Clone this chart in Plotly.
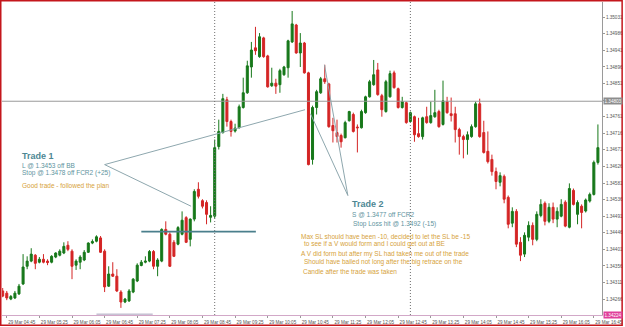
import plotly.graph_objects as go
import pandas as pd

# ---------------- data (EURUSD M5, 29 Mar) ----------------
START = "2012-03-29 04:40"
OPEN = [1.34288, 1.34282, 1.34266, 1.34269, 1.34280, 1.34307, 1.34355, 1.34369, 1.34385, 1.34366,
        1.34374, 1.34369, 1.34366, 1.34380, 1.34385, 1.34391, 1.34412, 1.34396, 1.34358, 1.34366,
        1.34372, 1.34393, 1.34418, 1.34423, 1.34432, 1.34396, 1.34301, 1.34334, 1.34328, 1.34285,
        1.34258, 1.34261, 1.34285, 1.34315, 1.34357, 1.34366, 1.34369, 1.34395, 1.34355, 1.34369,
        1.34455, 1.34442, 1.34420, 1.34415, 1.34442, 1.34487, 1.34428, 1.34483, 1.34564, 1.34533,
        1.34528, 1.34488, 1.34491, 1.34680, 1.34718, 1.34807, 1.34748, 1.34722, 1.34731, 1.34786,
        1.34826, 1.34896, 1.34948, 1.34924, 1.34975, 1.34926, 1.34845, 1.34852, 1.34848, 1.34875,
        1.34894, 1.34964, 1.35010, 1.34934, 1.34961, 1.34880, 1.34645, 1.34786, 1.34826, 1.34864,
        1.34850, 1.34737, 1.34718, 1.34710, 1.34704, 1.34750, 1.34767, 1.34733, 1.34731, 1.34772,
        1.34815, 1.34848, 1.34888, 1.34818, 1.34775, 1.34815, 1.34880, 1.34837, 1.34786, 1.34799,
        1.34748, 1.34761, 1.34715, 1.34707, 1.34761, 1.34745, 1.34761, 1.34775, 1.34740, 1.34802,
        1.34769, 1.34769, 1.34726, 1.34707, 1.34699, 1.34707, 1.34734, 1.34796, 1.34718, 1.34667,
        1.34645, 1.34612, 1.34583, 1.34599, 1.34542, 1.34472, 1.34504, 1.34420, 1.34388, 1.34434,
        1.34466, 1.34428, 1.34493, 1.34526, 1.34477, 1.34515, 1.34483, 1.34491, 1.34529, 1.34461,
        1.34561, 1.34496, 1.34518, 1.34505, 1.34532, 1.34550, 1.34637]
HIGH = [1.34296, 1.34288, 1.34277, 1.34288, 1.34307, 1.34388, 1.34382, 1.34404, 1.34388, 1.34380,
        1.34388, 1.34374, 1.34385, 1.34393, 1.34401, 1.34420, 1.34423, 1.34401, 1.34374, 1.34385,
        1.34399, 1.34420, 1.34428, 1.34439, 1.34437, 1.34401, 1.34355, 1.34366, 1.34347, 1.34290,
        1.34269, 1.34293, 1.34323, 1.34363, 1.34372, 1.34382, 1.34399, 1.34399, 1.34377, 1.34458,
        1.34477, 1.34447, 1.34426, 1.34464, 1.34504, 1.34491, 1.34485, 1.34564, 1.34583, 1.34537,
        1.34534, 1.34518, 1.34699, 1.34753, 1.34823, 1.34815, 1.34753, 1.34742, 1.34794, 1.34867,
        1.34913, 1.34964, 1.35005, 1.34988, 1.34978, 1.34929, 1.34894, 1.34864, 1.34891, 1.34899,
        1.34970, 1.35048, 1.35013, 1.34988, 1.34964, 1.34883, 1.34791, 1.34834, 1.34869, 1.34902,
        1.34853, 1.34758, 1.34753, 1.34715, 1.34750, 1.34777, 1.34772, 1.34740, 1.34780, 1.34818,
        1.34861, 1.34915, 1.34907, 1.34823, 1.34861, 1.34886, 1.34886, 1.34840, 1.34815, 1.34802,
        1.34775, 1.34764, 1.34758, 1.34761, 1.34788, 1.34802, 1.34834, 1.34780, 1.34859, 1.34815,
        1.34813, 1.34788, 1.34731, 1.34712, 1.34721, 1.34740, 1.34802, 1.34810, 1.34750, 1.34721,
        1.34658, 1.34623, 1.34610, 1.34604, 1.34547, 1.34515, 1.34510, 1.34434, 1.34447, 1.34477,
        1.34474, 1.34504, 1.34537, 1.34531, 1.34526, 1.34528, 1.34515, 1.34537, 1.34534, 1.34580,
        1.34566, 1.34534, 1.34523, 1.34539, 1.34555, 1.34642, 1.34740]
LOW = [1.34271, 1.34263, 1.34263, 1.34266, 1.34277, 1.34304, 1.34347, 1.34366, 1.34347, 1.34363,
       1.34363, 1.34358, 1.34363, 1.34377, 1.34382, 1.34388, 1.34396, 1.34320, 1.34345, 1.34347,
       1.34369, 1.34391, 1.34415, 1.34420, 1.34391, 1.34285, 1.34299, 1.34326, 1.34285, 1.34242,
       1.34255, 1.34258, 1.34282, 1.34312, 1.34355, 1.34363, 1.34366, 1.34347, 1.34328, 1.34366,
       1.34439, 1.34353, 1.34380, 1.34412, 1.34439, 1.34418, 1.34409, 1.34477, 1.34539, 1.34512,
       1.34469, 1.34474, 1.34485, 1.34672, 1.34715, 1.34734, 1.34707, 1.34718, 1.34729, 1.34783,
       1.34823, 1.34867, 1.34929, 1.34921, 1.34921, 1.34840, 1.34842, 1.34823, 1.34826, 1.34872,
       1.34867, 1.34961, 1.34932, 1.34896, 1.34878, 1.34629, 1.34631, 1.34767, 1.34823, 1.34850,
       1.34731, 1.34691, 1.34691, 1.34677, 1.34702, 1.34748, 1.34718, 1.34664, 1.34729, 1.34769,
       1.34813, 1.34845, 1.34818, 1.34761, 1.34772, 1.34813, 1.34837, 1.34783, 1.34783, 1.34742,
       1.34745, 1.34693, 1.34704, 1.34699, 1.34742, 1.34742, 1.34758, 1.34731, 1.34737, 1.34769,
       1.34748, 1.34691, 1.34658, 1.34648, 1.34658, 1.34704, 1.34731, 1.34704, 1.34661, 1.34634,
       1.34601, 1.34564, 1.34572, 1.34526, 1.34458, 1.34461, 1.34407, 1.34369, 1.34380, 1.34423,
       1.34412, 1.34423, 1.34488, 1.34466, 1.34472, 1.34472, 1.34461, 1.34488, 1.34461, 1.34458,
       1.34520, 1.34469, 1.34458, 1.34501, 1.34528, 1.34547, 1.34631]
CLOSE = [1.34274, 1.34269, 1.34273, 1.34282, 1.34301, 1.34353, 1.34369, 1.34388, 1.34363, 1.34374,
         1.34366, 1.34365, 1.34382, 1.34391, 1.34396, 1.34409, 1.34401, 1.34355, 1.34369, 1.34380,
         1.34393, 1.34418, 1.34422, 1.34435, 1.34393, 1.34299, 1.34334, 1.34328, 1.34288, 1.34258,
         1.34266, 1.34288, 1.34320, 1.34358, 1.34366, 1.34369, 1.34395, 1.34355, 1.34372, 1.34455,
         1.34442, 1.34355, 1.34382, 1.34460, 1.34480, 1.34420, 1.34483, 1.34558, 1.34545, 1.34518,
         1.34496, 1.34493, 1.34677, 1.34721, 1.34810, 1.34748, 1.34721, 1.34730, 1.34788, 1.34826,
         1.34899, 1.34942, 1.34940, 1.34978, 1.34924, 1.34842, 1.34852, 1.34844, 1.34886, 1.34896,
         1.34967, 1.35013, 1.34934, 1.34961, 1.34880, 1.34631, 1.34786, 1.34829, 1.34864, 1.34856,
         1.34734, 1.34723, 1.34707, 1.34693, 1.34745, 1.34775, 1.34721, 1.34731, 1.34775, 1.34815,
         1.34856, 1.34875, 1.34821, 1.34780, 1.34856, 1.34878, 1.34840, 1.34786, 1.34802, 1.34745,
         1.34772, 1.34712, 1.34707, 1.34758, 1.34745, 1.34764, 1.34772, 1.34734, 1.34804, 1.34772,
         1.34764, 1.34726, 1.34707, 1.34699, 1.34712, 1.34734, 1.34796, 1.34707, 1.34664, 1.34639,
         1.34612, 1.34585, 1.34601, 1.34537, 1.34469, 1.34504, 1.34415, 1.34385, 1.34439, 1.34466,
         1.34428, 1.34496, 1.34523, 1.34477, 1.34515, 1.34483, 1.34504, 1.34523, 1.34464, 1.34566,
         1.34523, 1.34528, 1.34501, 1.34535, 1.34550, 1.34637, 1.34677]

Y_TICKS = [1.34266, 1.34311, 1.34356, 1.34401, 1.34446, 1.34491, 1.34536, 1.34581, 1.34626,
           1.34671, 1.34716, 1.34761, 1.34806, 1.34851, 1.34896, 1.34941, 1.34986, 1.35031, 1.35076]
X_TICKS = ["2012-03-29 04:45", "2012-03-29 05:25", "2012-03-29 06:05", "2012-03-29 06:45",
           "2012-03-29 07:25", "2012-03-29 08:05", "2012-03-29 08:45", "2012-03-29 09:25",
           "2012-03-29 10:05", "2012-03-29 10:45", "2012-03-29 11:25", "2012-03-29 12:05",
           "2012-03-29 12:45", "2012-03-29 13:25", "2012-03-29 14:05", "2012-03-29 14:45",
           "2012-03-29 15:25", "2012-03-29 16:05", "2012-03-29 16:45"]
X_TICK_LABELS = ["29 Mar 04:45", "29 Mar 05:25", "29 Mar 06:05", "29 Mar 06:45", "29 Mar 07:25",
                 "29 Mar 08:05", "29 Mar 08:45", "29 Mar 09:25", "29 Mar 10:05", "29 Mar 10:45",
                 "29 Mar 11:25", "29 Mar 12:05", "29 Mar 12:45", "29 Mar 13:25", "29 Mar 14:05",
                 "29 Mar 14:45", "29 Mar 15:25", "29 Mar 16:05", "29 Mar 16:45"]

SESSION_LINES = ["2012-03-29 09:00", "2012-03-29 13:00"]
HLINE_PRICE = 1.34803
BOTTOM_PRICE = 1.34224
LEVEL_1 = ("2012-03-29 07:30", "2012-03-29 09:50:30", 1.34449)
LEVEL_2 = ("2012-03-29 06:35", "2012-03-29 07:44", 1.34225)
TRADE_LINES = [
    ("2012-03-29 06:45", 1.34631, "2012-03-29 10:50:48", 1.34780),
    ("2012-03-29 06:45", 1.34631, "2012-03-29 08:31", 1.34518),
    ("2012-03-29 11:43:20", 1.34547, "2012-03-29 10:57:30", 1.34769),
    ("2012-03-29 11:43:20", 1.34547, "2012-03-29 11:14:36", 1.34902),
]

# ---------------- layout geometry ----------------
W, H = 625, 327
ML, MR, MT, MB = 2, 21, 2, 11
PW, PH = W - ML - MR, H - MT - MB


def fx(px):
    return (px - ML) / PW


def fy(py):
    return (MT + PH - py) / PH


BULL = "#17781a"
BEAR = "#d42525"
TEAL = "#4d8794"
TEAL2 = "#5e939e"
GOLD = "#d6a23a"
FONT = "Liberation Sans"

times = pd.date_range(START, periods=len(OPEN), freq="5min")

fig = go.Figure(go.Candlestick(
    x=times, open=OPEN, high=HIGH, low=LOW, close=CLOSE,
    increasing=dict(line=dict(color=BULL, width=1), fillcolor=BULL),
    decreasing=dict(line=dict(color=BEAR, width=1), fillcolor=BEAR),
    whiskerwidth=0, hoverinfo="skip",
))

shapes = []
# full-width horizontal line
shapes.append(dict(type="line", xref="paper", yref="y", x0=0, x1=1, y0=HLINE_PRICE, y1=HLINE_PRICE,
                   line=dict(color="#9a9a9a", width=1)))
# session separators
for t in SESSION_LINES:
    shapes.append(dict(type="line", xref="x", yref="paper", x0=t, x1=t, y0=0, y1=1,
                       line=dict(color="#6f6f6f", width=1, dash="1px,2px")))
# levels
shapes.append(dict(type="line", xref="x", yref="y", x0=LEVEL_1[0], x1=LEVEL_1[1], y0=LEVEL_1[2],
                   y1=LEVEL_1[2], line=dict(color="#4a7f8c", width=1.6)))
shapes.append(dict(type="line", xref="x", yref="y", x0=LEVEL_2[0], x1=LEVEL_2[1], y0=LEVEL_2[2],
                   y1=LEVEL_2[2], line=dict(color="#a9a2bd", width=1)))
# trade lines
for x0, y0, x1, y1 in TRADE_LINES:
    shapes.append(dict(type="line", xref="x", yref="y", x0=x0, y0=y0, x1=x1, y1=y1,
                       line=dict(color="#8ea7ae", width=1)))
# outer red frame
shapes.append(dict(type="rect", xref="paper", yref="paper", x0=fx(0.75), x1=fx(624.2),
                   y0=fy(326.2), y1=fy(0.75), line=dict(color="#c4161c", width=1.5)))

annotations = []


def txt(text, px, py, color, size, bold=False):
    annotations.append(dict(
        text=f"<b>{text}</b>" if bold else text, xref="paper", yref="paper",
        x=fx(px), y=fy(py), xanchor="left", yanchor="middle", showarrow=False,
        font=dict(family=FONT, size=size, color=color)))


txt("Trade 1", 20.5, 156.5, TEAL, 9, bold=True)
txt("L @ 1.3453 off BB", 20.5, 166, TEAL2, 6.5)
txt("Stop @ 1.3478 off FCR2 (+25)", 20.0, 173.5, TEAL2, 6.5)
txt("Good trade - followed the plan", 20.0, 187, GOLD, 6.5)

txt("Trade 2", 351.5, 204.5, TEAL, 9, bold=True)
txt("S @ 1.3477 off FCR2", 351.0, 215, TEAL2, 6.5)
txt("Stop Loss hit @ 1.3492 (-15)", 352.3, 224.5, TEAL2, 6.5)

txt("Max SL should have been -10, decided to let the SL be -15", 300.0, 237.5, GOLD, 6.5)
txt("to see if a V would form and I could get out at BE", 302.5, 244.5, GOLD, 6.5)
txt("A V did form but after my SL had taken me out of the trade", 300.0, 255, GOLD, 6.5)
txt("Should have bailed not long after the big retrace on the", 303.5, 263.3, GOLD, 6.5)
txt("Candle after the trade was taken", 301.7, 272, GOLD, 6.5)

# price labels on the axis
for price, bg in [(HLINE_PRICE, "#8d8d8d"), (BOTTOM_PRICE, "#e0409a")]:
    annotations.append(dict(
        text=f"{price:.5f}", xref="paper", yref="y", x=fx(605), y=price,
        xanchor="left", yanchor="middle", showarrow=False, bgcolor=bg, borderpad=0.5,
        font=dict(family=FONT, size=4.6, color="white")))

fig.update_layout(
    width=W, height=H, margin=dict(l=ML, r=MR, t=MT, b=MB),
    paper_bgcolor="white", plot_bgcolor="white", showlegend=False,
    shapes=shapes, annotations=annotations,
    xaxis=dict(
        type="date", range=["2012-03-29 04:39:09", "2012-03-29 16:55"],
        rangeslider=dict(visible=False), showgrid=False, zeroline=False,
        showline=True, linecolor="#d2a8c8", linewidth=1,
        ticks="outside", ticklen=2, tickcolor="#999999",
        tickvals=X_TICKS, ticktext=X_TICK_LABELS, ticklabelshift=15,
        tickfont=dict(family=FONT, size=4.6, color="#555555"),
    ),
    yaxis=dict(
        side="right", range=[1.342227, 1.350724], showgrid=False, zeroline=False,
        showline=True, linecolor="#9a9a9a", linewidth=1,
        ticks="outside", ticklen=2, tickcolor="#999999",
        tickvals=Y_TICKS, tickformat=".5f",
        tickfont=dict(family=FONT, size=4.6, color="#555555"),
    ),
)

fig.write_html("out.html")
